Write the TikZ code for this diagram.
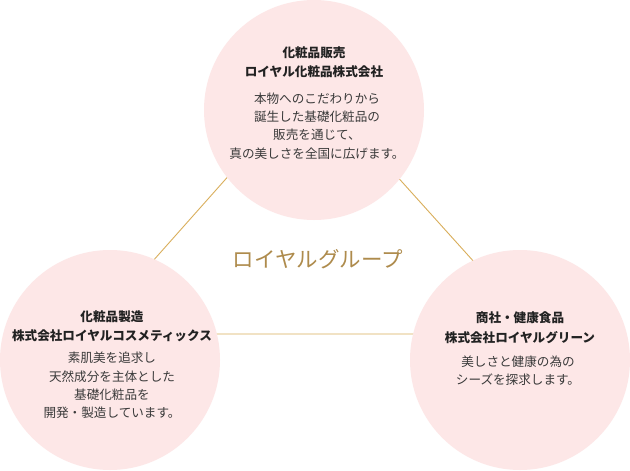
\documentclass[tikz,border=0pt]{standalone}
\usepackage{fontspec}
\newfontfamily\jp{Noto Sans CJK JP}
\definecolor{circfill}{HTML}{FDE7E7}
\definecolor{goldline}{HTML}{D9AE5A}
\definecolor{goldtext}{HTML}{AE8B4C}
\definecolor{hdtext}{HTML}{222222}
\definecolor{bodytext}{HTML}{3A3A3A}
\tikzset{
  circ/.style={circle, fill=circfill, minimum size=220pt, inner sep=0pt},
  tri/.style={goldline, line width=0.9pt},
  hd/.style={font=\jp\bfseries\fontsize{12.6}{19.5}\selectfont, text=hdtext, align=center, inner sep=0pt},
  bd/.style={font=\jp\fontsize{12.6}{18.2}\selectfont, text=bodytext, align=center, inner sep=0pt},
  ttl/.style={font=\jp\fontsize{21.5}{24}\selectfont, text=goldtext, inner sep=0pt}
}
\begin{document}
\begin{tikzpicture}[x=1pt,y=-1pt]
\useasboundingbox[fill=white] (0,0) rectangle (630,471);
\coordinate (ta) at (312,82);
\coordinate (tl) at (88,334);
\coordinate (tr) at (539,334);
\draw[tri] (ta) -- (tl) -- (tr) -- cycle;
\node[circ] (top) at (314,110) {};
\node[circ] (left) at (110,360) {};
\node[circ] (right) at (520,360) {};
\node[ttl] (title) at (318,259) {ロイヤルグループ};
\node[hd] (tophd) at (314,62) {化粧品販売\\ロイヤル化粧品株式会社};
\node[bd] (topbd) at (317,126) {本物へのこだわりから\\誕生した基礎化粧品の\\販売を通じて、\\真の美しさを全国に広げます。};
\node[hd] (lefthd) at (112,326.5) {化粧品製造\\株式会社ロイヤルコスメティックス};
\node[bd] (leftbd) at (112,385.5) {素肌美を追求し\\天然成分を主体とした\\基礎化粧品を\\開発・製造しています。};
\node[hd] (righthd) at (520,327.5) {商社・健康食品\\株式会社ロイヤルグリーン};
\node[bd] (rightbd) at (518,371) {美しさと健康の為の\\シーズを探求します。};
\end{tikzpicture}
\end{document}
